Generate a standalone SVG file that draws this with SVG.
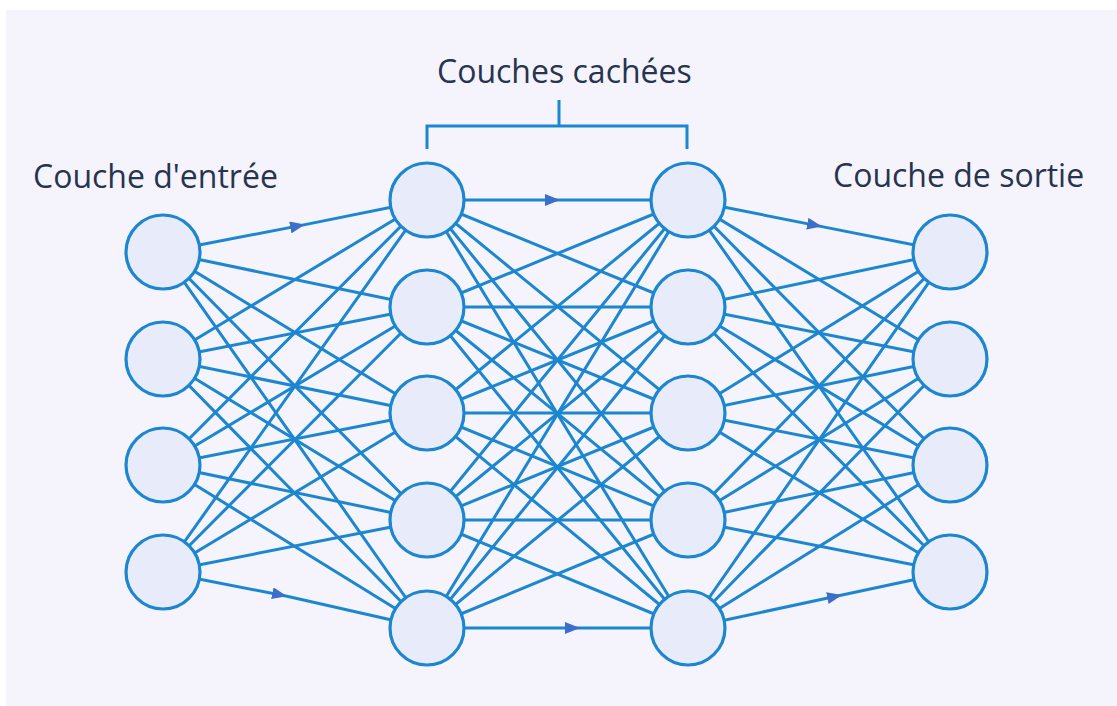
<svg xmlns="http://www.w3.org/2000/svg" width="1117" height="706" viewBox="0 0 1117 706">
  <style>
    .edge { stroke: #1c86cf; stroke-width: 3; fill: none; }
    .node circle { fill: #e8ecfa; stroke: #1c86cf; stroke-width: 3.2; }
    .label { font-family: "Open Sans", "Liberation Sans", sans-serif; font-size: 32px; fill: #28344f; }
  </style>
  <defs>
    <marker id="arrow" viewBox="0 0 15 12" refX="15" refY="6" markerWidth="15" markerHeight="12" markerUnits="userSpaceOnUse" orient="auto">
      <path d="M0,0 L15,6 L0,12 Z" fill="#3b6fca"/>
    </marker>
  </defs>

  <!-- backdrop panel -->
  <rect x="0" y="0" width="1117" height="706" fill="#ffffff"/>
  <rect x="6" y="10" width="1111" height="696" fill="#f5f4fd"/>

  <!-- layer labels -->
  <text class="label" x="33" y="188">Couche d'entrée</text>
  <text class="label" x="437" y="83">Couches cachées</text>
  <text class="label" x="833" y="187">Couche de sortie</text>

  <!-- bracket over hidden layers -->
  <path class="edge" d="M427,149 V126 H687 V149 M559,100 V126"/>

  <!-- connectors -->
  <g id="connectors">
    <!-- input -> hidden 1 -->
    <g id="in-h1">
      <path class="edge" d="M163,252 L305,224.6 L427,200" marker-mid="url(#arrow)"/>
      <path class="edge" d="M163,252 L427,307 M163,252 L427,413 M163,252 L427,520 M163,252 L427,628"/>
      <path class="edge" d="M163,359 L427,200 M163,359 L427,307 M163,359 L427,413 M163,359 L427,520 M163,359 L427,628"/>
      <path class="edge" d="M163,465 L427,200 M163,465 L427,307 M163,465 L427,413 M163,465 L427,520 M163,465 L427,628"/>
      <path class="edge" d="M163,572 L427,200 M163,572 L427,307 M163,572 L427,413 M163,572 L427,520"/>
      <path class="edge" d="M163,572 L287,596.3 L427,628" marker-mid="url(#arrow)"/>
    </g>
    <!-- hidden 1 -> hidden 2 -->
    <g id="h1-h2">
      <path class="edge" d="M427,200 L560,200 L688,200" marker-mid="url(#arrow)"/>
      <path class="edge" d="M427,200 L688,307 M427,200 L688,413 M427,200 L688,520 M427,200 L688,628"/>
      <path class="edge" d="M427,307 L688,200 M427,307 L688,307 M427,307 L688,413 M427,307 L688,520 M427,307 L688,628"/>
      <path class="edge" d="M427,413 L688,200 M427,413 L688,307 M427,413 L688,413 M427,413 L688,520 M427,413 L688,628"/>
      <path class="edge" d="M427,520 L688,200 M427,520 L688,307 M427,520 L688,413 M427,520 L688,520 M427,520 L688,628"/>
      <path class="edge" d="M427,628 L688,200 M427,628 L688,307 M427,628 L688,413 M427,628 L688,520"/>
      <path class="edge" d="M427,628 L580,628 L688,628" marker-mid="url(#arrow)"/>
    </g>
    <!-- hidden 2 -> output -->
    <g id="h2-out">
      <path class="edge" d="M688,200 L822,226.6 L950,252" marker-mid="url(#arrow)"/>
      <path class="edge" d="M688,200 L950,359 M688,200 L950,465 M688,200 L950,572"/>
      <path class="edge" d="M688,307 L950,252 M688,307 L950,359 M688,307 L950,465 M688,307 L950,572"/>
      <path class="edge" d="M688,413 L950,252 M688,413 L950,359 M688,413 L950,465 M688,413 L950,572"/>
      <path class="edge" d="M688,520 L950,252 M688,520 L950,359 M688,520 L950,465 M688,520 L950,572"/>
      <path class="edge" d="M688,628 L950,252 M688,628 L950,359 M688,628 L950,465"/>
      <path class="edge" d="M688,628 L842,595 L950,572" marker-mid="url(#arrow)"/>
    </g>
  </g>

  <!-- input layer -->
  <g id="input-1" class="node"><circle cx="163" cy="252" r="37"/></g>
  <g id="input-2" class="node"><circle cx="163" cy="359" r="37"/></g>
  <g id="input-3" class="node"><circle cx="163" cy="465" r="37"/></g>
  <g id="input-4" class="node"><circle cx="163" cy="572" r="37"/></g>

  <!-- first hidden layer -->
  <g id="hidden1-1" class="node"><circle cx="427" cy="200" r="37"/></g>
  <g id="hidden1-2" class="node"><circle cx="427" cy="307" r="37"/></g>
  <g id="hidden1-3" class="node"><circle cx="427" cy="413" r="37"/></g>
  <g id="hidden1-4" class="node"><circle cx="427" cy="520" r="37"/></g>
  <g id="hidden1-5" class="node"><circle cx="427" cy="628" r="37"/></g>

  <!-- second hidden layer -->
  <g id="hidden2-1" class="node"><circle cx="688" cy="200" r="37"/></g>
  <g id="hidden2-2" class="node"><circle cx="688" cy="307" r="37"/></g>
  <g id="hidden2-3" class="node"><circle cx="688" cy="413" r="37"/></g>
  <g id="hidden2-4" class="node"><circle cx="688" cy="520" r="37"/></g>
  <g id="hidden2-5" class="node"><circle cx="688" cy="628" r="37"/></g>

  <!-- output layer -->
  <g id="output-1" class="node"><circle cx="950" cy="252" r="37"/></g>
  <g id="output-2" class="node"><circle cx="950" cy="359" r="37"/></g>
  <g id="output-3" class="node"><circle cx="950" cy="465" r="37"/></g>
  <g id="output-4" class="node"><circle cx="950" cy="572" r="37"/></g>
</svg>
